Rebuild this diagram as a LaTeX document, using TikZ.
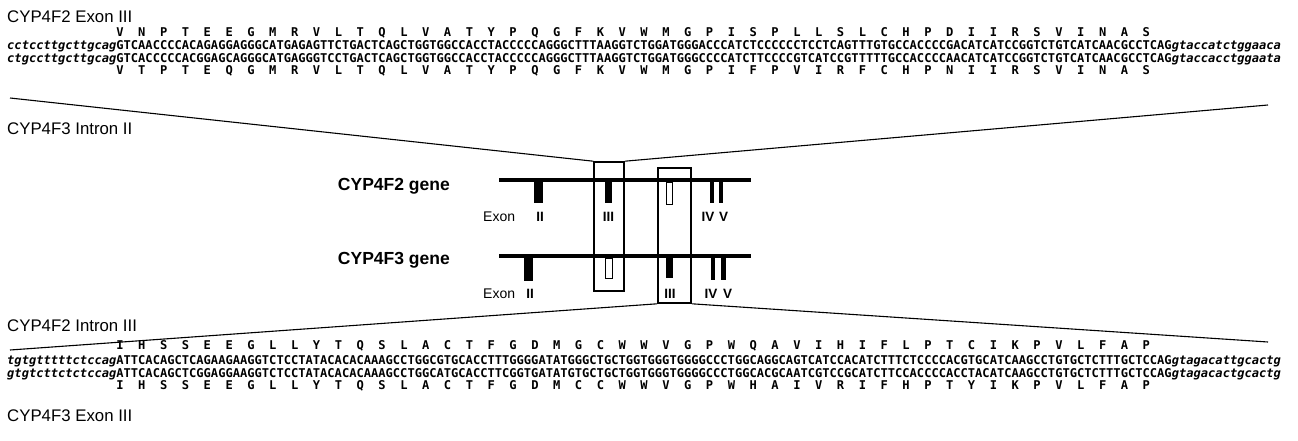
\documentclass[tikz,border=0pt]{standalone}
\usepackage{fontspec}
\newfontfamily\seqfont{DejaVu Sans Mono}
\newfontfamily\labfont{Liberation Sans}
\begin{document}
\begin{tikzpicture}[x=1pt,y=-1pt,
  seq/.style={inner sep=0pt, anchor=base west, font=\seqfont\bfseries\fontsize{12.09}{14}\selectfont},
  lab/.style={inner sep=0pt, anchor=base west, font=\labfont\fontsize{16.8}{19}\selectfont},
  genelab/.style={inner sep=0pt, anchor=base east, font=\labfont\bfseries\fontsize{17.5}{20}\selectfont},
  exonlab/.style={inner sep=0pt, anchor=base west, font=\labfont\fontsize{14}{16}\selectfont},
  num/.style={inner sep=0pt, anchor=base, font=\labfont\bfseries\fontsize{13.5}{16}\selectfont},
  gene/.style={line width=4pt},
  funnel/.style={line width=1.1pt},
  frame/.style={draw, line width=1.6pt, inner sep=0pt},
  openex/.style={draw, fill=white, line width=0.8pt}
]
\useasboundingbox (0,0) rectangle (1298,441);

% ---- upper alignment: exon III of CYP4F2 against intron II of CYP4F3
\node[lab] (f2exon) at (7,23) {CYP4F2 Exon III};
\node[seq] (aa1) at (116.2,36.7) {V~~N~~P~~T~~E~~E~~G~~M~~R~~V~~L~~T~~Q~~L~~V~~A~~T~~Y~~P~~Q~~G~~F~~K~~V~~W~~M~~G~~P~~I~~S~~P~~L~~L~~S~~L~~C~~H~~P~~D~~I~~I~~R~~S~~V~~I~~N~~A~~S};
\node[seq] (dna1) at (7,50) {{\itshape cctccttgcttgcag}GTCAACCCCACAGAGGAGGGCATGAGAGTTCTGACTCAGCTGGTGGCCACCTACCCCCAGGGCTTTAAGGTCTGGATGGGACCCATCTCCCCCCTCCTCAGTTTGTGCCACCCCGACATCATCCGGTCTGTCATCAACGCCTCAG{\itshape gtaccatctggaaca}};
\node[seq] (dna2) at (7,62.3) {{\itshape ctgccttgcttgcag}GTCACCCCCACGGAGCAGGGCATGAGGGTCCTGACTCAGCTGGTGGCCACCTACCCCCAGGGCTTTAAGGTCTGGATGGGCCCCATCTTCCCCGTCATCCGTTTTTGCCACCCCAACATCATCCGGTCTGTCATCAACGCCTCAG{\itshape gtaccacctggaata}};
\node[seq] (aa2) at (116.2,74.3) {V~~T~~P~~T~~E~~Q~~G~~M~~R~~V~~L~~T~~Q~~L~~V~~A~~T~~Y~~P~~Q~~G~~F~~K~~V~~W~~M~~G~~P~~I~~F~~P~~V~~I~~R~~F~~C~~H~~P~~N~~I~~I~~R~~S~~V~~I~~N~~A~~S};
\node[lab] (f3intron) at (7,135) {CYP4F3 Intron II};

% ---- gene maps
\node[genelab] (g2) at (450,190) {CYP4F2 gene};
\node[genelab] (g3) at (450,264) {CYP4F3 gene};

\node[frame, minimum width=30pt, minimum height=129pt] (boxA) at (609,226.5) {};
\node[frame, minimum width=33pt, minimum height=135pt] (boxB) at (674.5,235.5) {};

\draw[gene] (499,180) -- (751,180);
\draw[gene] (499,256) -- (751,256);

% CYP4F2 exons
\fill (533.5,180) rectangle (543,203);
\fill (605,180) rectangle (612,203);
\draw[openex] (666,182) rectangle (672,204);
\fill (710,180) rectangle (714,203);
\fill (718.5,180) rectangle (723,203);
% CYP4F3 exons
\fill (523.5,256) rectangle (533,281);
\draw[openex] (605.5,258) rectangle (612.5,278);
\fill (666,256) rectangle (673,278);
\fill (711,256) rectangle (714.5,280);
\fill (720.5,256) rectangle (725.5,280);

\node[exonlab] (exA) at (483,221.7) {Exon};
\node[num] (nA2) at (540,221.7) {II};
\node[num] (nA3) at (608.5,221.7) {III};
\node[num] (nA4) at (708,221.7) {IV};
\node[num] (nA5) at (723.5,221.7) {V};
\node[exonlab] (exB) at (483,298.3) {Exon};
\node[num] (nB2) at (530,298.3) {II};
\node[num] (nB3) at (670,298.3) {III};
\node[num] (nB4) at (711,298.3) {IV};
\node[num] (nB5) at (727.5,298.3) {V};

% ---- funnel lines
\coordinate (tl) at (10,98);
\coordinate (tr) at (1268,105);
\coordinate (bl) at (10,350);
\coordinate (br) at (1268,342);
\draw[funnel] (tl) -- (boxA.north west);
\draw[funnel] (boxA.north east) -- (tr);
\draw[funnel] (bl) -- (boxB.south west);
\draw[funnel] (boxB.south east) -- (br);

% ---- lower alignment: intron III of CYP4F2 against exon III of CYP4F3
\node[lab] (f2intron) at (7,331.7) {CYP4F2 Intron III};
\node[seq] (aa3) at (116.2,349.5) {I~~H~~S~~S~~E~~E~~G~~L~~L~~Y~~T~~Q~~S~~L~~A~~C~~T~~F~~G~~D~~M~~G~~C~~W~~W~~V~~G~~P~~W~~Q~~A~~V~~I~~H~~I~~F~~L~~P~~T~~C~~I~~K~~P~~V~~L~~F~~A~~P};
\node[seq] (dna3) at (7,364) {{\itshape tgtgtttttctccag}ATTCACAGCTCAGAAGAAGGTCTCCTATACACACAAAGCCTGGCGTGCACCTTTGGGGATATGGGCTGCTGGTGGGTGGGGCCCTGGCAGGCAGTCATCCACATCTTTCTCCCCACGTGCATCAAGCCTGTGCTCTTTGCTCCAG{\itshape gtagacattgcactg}};
\node[seq] (dna4) at (7,377.5) {{\itshape gtgtcttctctccag}ATTCACAGCTCGGAGGAAGGTCTCCTATACACACAAAGCCTGGCATGCACCTTCGGTGATATGTGCTGCTGGTGGGTGGGGCCCTGGCACGCAATCGTCCGCATCTTCCACCCCACCTACATCAAGCCTGTGCTCTTTGCTCCAG{\itshape gtagacactgcactg}};
\node[seq] (aa4) at (116.2,389.5) {I~~H~~S~~S~~E~~E~~G~~L~~L~~Y~~T~~Q~~S~~L~~A~~C~~T~~F~~G~~D~~M~~C~~C~~W~~W~~V~~G~~P~~W~~H~~A~~I~~V~~R~~I~~F~~H~~P~~T~~Y~~I~~K~~P~~V~~L~~F~~A~~P};
\node[lab] (f3exon) at (7,421.7) {CYP4F3 Exon III};
\end{tikzpicture}
\end{document}
